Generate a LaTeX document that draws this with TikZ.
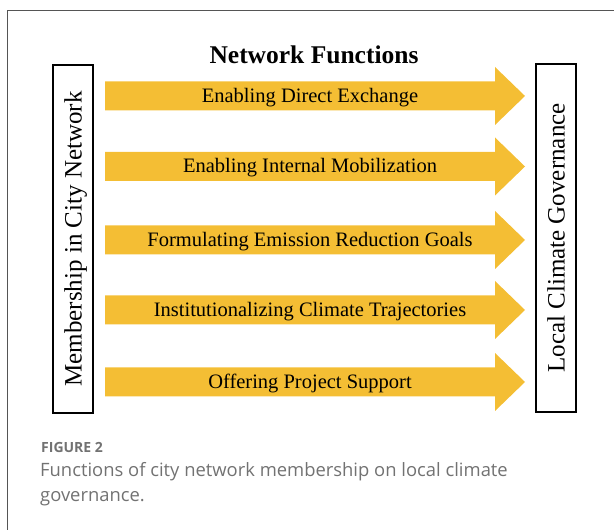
\documentclass[tikz,border=0pt]{standalone}
\usepackage{fontspec}
\setmainfont{Liberation Serif}
\newfontfamily\capfont{Open Sans}
\definecolor{arrowyellow}{HTML}{F4BE34}
\definecolor{capgray}{HTML}{727272}
\definecolor{framegray}{HTML}{555555}
\begin{document}
\begin{tikzpicture}[x=1bp,y=1bp,
  sidebox/.style={draw=black, line width=1.3bp, minimum width=348bp, minimum height=40bp,
    inner sep=0pt, rotate=90, text depth=0pt, font=\fontsize{25bp}{30bp}\selectfont},
  flowlabel/.style={font=\fontsize{20.5bp}{24bp}\selectfont, inner sep=0pt, anchor=base},
  flowarrow/.style={fill=arrowyellow, draw=none},
  titletext/.style={font=\bfseries\fontsize{25.5bp}{30bp}\selectfont, inner sep=0pt},
  capline/.style={font=\capfont\fontsize{18.4bp}{22bp}\selectfont, text=capgray, inner sep=0pt, anchor=base west},
  caphead/.style={font=\capfont\bfseries\fontsize{14bp}{16bp}\selectfont, text=capgray, inner sep=0pt, anchor=base west}]
\useasboundingbox (0,0) rectangle (614,530);
% outer frame
\draw[framegray, line width=1.3bp] (7.5,0) -- (7.5,519.5) -- (614,519.5);
% title
\node[titletext] (title) at (314,475) {Network Functions};
% side boxes
\node[sidebox] (mem) at (73,291) {Membership in City Network};
\node[sidebox] (gov) at (556,292) {Local Climate Governance};
% arrows
\foreach \yy/\txt [count=\i] in {434/Enabling Direct Exchange,
    363.5/Enabling Internal Mobilization,
    290/Formulating Emission Reduction Goals,
    220/Institutionalizing Climate Trajectories,
    148/Offering Project Support}{
  \fill[flowarrow] (105,\yy-14.5) -- (495,\yy-14.5) -- (495,\yy-29) -- (525,\yy)
     -- (495,\yy+29) -- (495,\yy+14.5) -- (105,\yy+14.5) -- cycle;
  \node[flowlabel] (f\i) at (310,\yy-6.5) {\txt};
}
% caption
\node[caphead] (fig) at (41,77) {FIGURE 2};
\node[capline] (cap1) at (40,53) {Functions of city network membership on local climate};
\node[capline] (cap2) at (40,28) {governance.};
\end{tikzpicture}
\end{document}
